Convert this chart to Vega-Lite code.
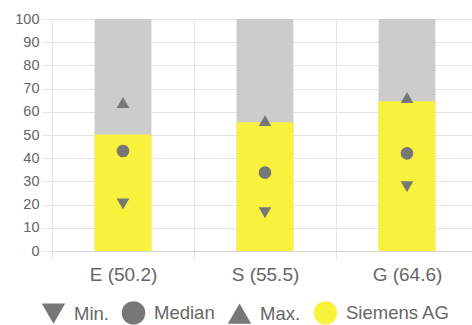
{
  "$schema": "https://vega.github.io/schema/vega-lite/v6.json",
  "autosize": "none",
  "padding": {"left": 52, "top": 19, "right": 0, "bottom": 74},
  "width": 426,
  "height": 232,
  "background": "white",
  "config": {
    "view": {"stroke": null},
    "font": "Liberation Sans",
    "axis": {"labelFont": "Liberation Sans", "labelColor": "#666666", "gridColor": "#e4e4e4", "tickColor": "#e4e4e4", "domainColor": "#e4e4e4"}
  },
  "datasets": {
    "scores": [
      {"cat": "E (50.2)", "value": 50.2, "top": 100},
      {"cat": "S (55.5)", "value": 55.5, "top": 100},
      {"cat": "G (64.6)", "value": 64.6, "top": 100}
    ],
    "markers": [
      {"cat": "E (50.2)", "stat": "Min.", "v": 20.3},
      {"cat": "E (50.2)", "stat": "Median", "v": 43.1},
      {"cat": "E (50.2)", "stat": "Max.", "v": 64},
      {"cat": "S (55.5)", "stat": "Min.", "v": 16.5},
      {"cat": "S (55.5)", "stat": "Median", "v": 33.8},
      {"cat": "S (55.5)", "stat": "Max.", "v": 56.2},
      {"cat": "G (64.6)", "stat": "Min.", "v": 27.7},
      {"cat": "G (64.6)", "stat": "Median", "v": 42.1},
      {"cat": "G (64.6)", "stat": "Max.", "v": 66.2}
    ]
  },
  "encoding": {
    "x": {
      "field": "cat", "type": "nominal", "sort": null, "title": null,
      "scale": {"paddingInner": 0, "paddingOuter": 0},
      "axis": {"labelAngle": 0, "labelFontSize": 19, "labelPadding": 6, "tickBand": "extent", "tickSize": 8, "grid": true, "domain": true, "domainColor": "#d6d6d6"}
    }
  },
  "layer": [
    {
      "data": {"name": "scores"},
      "mark": {"type": "bar", "color": "#cccccc", "width": {"band": 0.4}},
      "encoding": {
        "y": {"field": "top", "type": "quantitative", "scale": {"domain": [0, 100], "nice": false}, "title": null,
          "axis": {"tickCount": 10, "labelOverlap": false, "labelFontSize": 14.5, "tickSize": 10, "labelPadding": 3, "domain": false, "grid": true}}
      }
    },
    {
      "data": {"name": "scores"},
      "mark": {"type": "bar", "color": "#f9f23c", "width": {"band": 0.4}},
      "encoding": {"y": {"field": "value", "type": "quantitative", "title": null}}
    },
    {
      "data": {"name": "markers"},
      "mark": {"type": "point", "filled": true, "opacity": 1, "size": 160},
      "encoding": {
        "y": {"field": "v", "type": "quantitative", "title": null},
        "color": {"field": "stat", "type": "nominal", "title": null,
          "scale": {"domain": ["Min.", "Median", "Max.", "Siemens AG"], "range": ["#777777", "#777777", "#777777", "#f9f23c"]}},
        "shape": {"field": "stat", "type": "nominal", "title": null,
          "scale": {"domain": ["Min.", "Median", "Max.", "Siemens AG"], "range": ["triangle-down", "circle", "triangle-up", "circle"]},
          "legend": {"orient": "none", "legendX": -11, "legendY": 281, "direction": "horizontal", "symbolSize": 550, "labelFontSize": 18.5, "labelColor": "#666666", "labelFont": "Liberation Sans", "labelOffset": 8, "columnPadding": 12, "symbolType": "circle"}}
      }
    }
  ]
}
